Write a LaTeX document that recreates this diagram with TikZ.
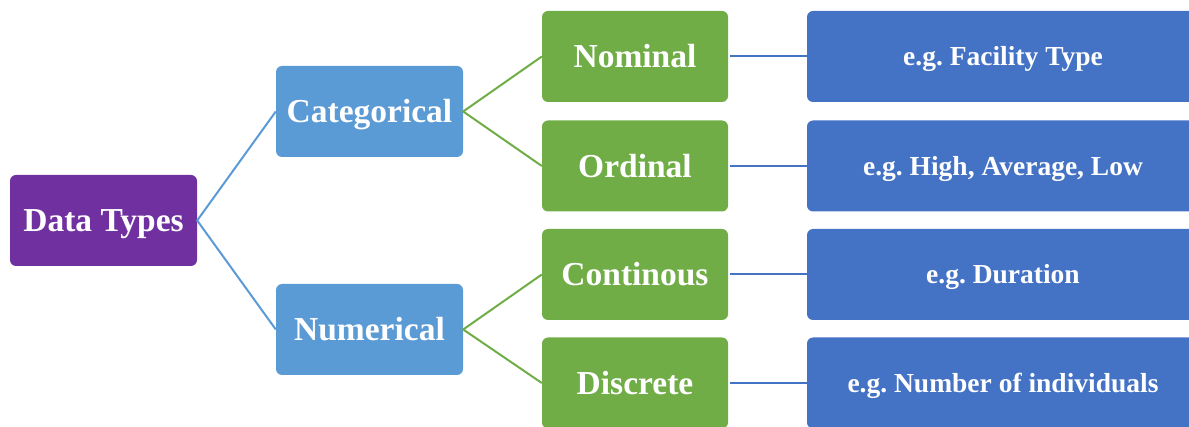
\documentclass[tikz,border=0pt]{standalone}
\usepackage{fontspec}
\setmainfont{Liberation Serif}
\frenchspacing
\definecolor{rootpurple}{HTML}{7030A0}
\definecolor{catblue}{HTML}{5B9BD5}
\definecolor{leafgreen}{HTML}{70AD47}
\definecolor{exblue}{HTML}{4472C4}
\begin{document}
\begin{tikzpicture}[x=1pt,y=-1pt,
  box/.style={rounded corners=6pt, inner sep=0pt, text=white,
    text height=25.5pt, text depth=2.7pt,
    font=\bfseries\fontsize{33.5}{36}\selectfont, minimum width=187pt, minimum height=91pt},
  rootbox/.style={box, fill=rootpurple},
  catbox/.style={box, fill=catblue},
  leafbox/.style={box, fill=leafgreen, minimum width=186pt},
  exbox/.style={box, fill=exblue, minimum width=390pt},
  exlabel/.style={anchor=center, text=white, inner sep=0pt,
    text height=20.9pt, text depth=2.2pt,
    font=\bfseries\fontsize{27.5}{30}\selectfont},
  link/.style={line width=2pt}]
\useasboundingbox (0,0) rectangle (1189,427);

% tree boxes
\node[rootbox] (root) at (103.5,220.5) {Data Types};
\node[catbox] (cat) at (369.5,111.5) {Categorical};
\node[catbox] (num) at (369.5,329.5) {Numerical};
\node[leafbox] (nom) at (635,56.5) {Nominal};
\node[leafbox] (ord) at (635,166) {Ordinal};
\node[leafbox] (con) at (635,274.5) {Continous};
\node[leafbox] (dis) at (635,383) {Discrete};

% example boxes (running past the right edge)
\node[exbox] (exnom) at (1002,56.5) {};
\node[exbox] (exord) at (1002,166) {};
\node[exbox] (excon) at (1002,274.5) {};
\node[exbox] (exdis) at (1002,383) {};
\node[exlabel] at (1003,56.5) {e.g. Facility Type};
\node[exlabel] at (1003,166) {e.g. High, Average, Low};
\node[exlabel] at (1003,274.5) {e.g. Duration};
\node[exlabel] at (1003,383) {e.g. Number of individuals};

% connectors
\draw[link, catblue] (cat.west) -- (root.east) -- (num.west);
\draw[link, leafgreen] (nom.west) -- (cat.east) -- (ord.west);
\draw[link, leafgreen] (con.west) -- (num.east) -- (dis.west);
\draw[link, exblue] ([xshift=2pt]nom.east) -- (exnom.west);
\draw[link, exblue] ([xshift=2pt]ord.east) -- (exord.west);
\draw[link, exblue] ([xshift=2pt]con.east) -- (excon.west);
\draw[link, exblue] ([xshift=2pt]dis.east) -- (exdis.west);
\end{tikzpicture}
\end{document}
